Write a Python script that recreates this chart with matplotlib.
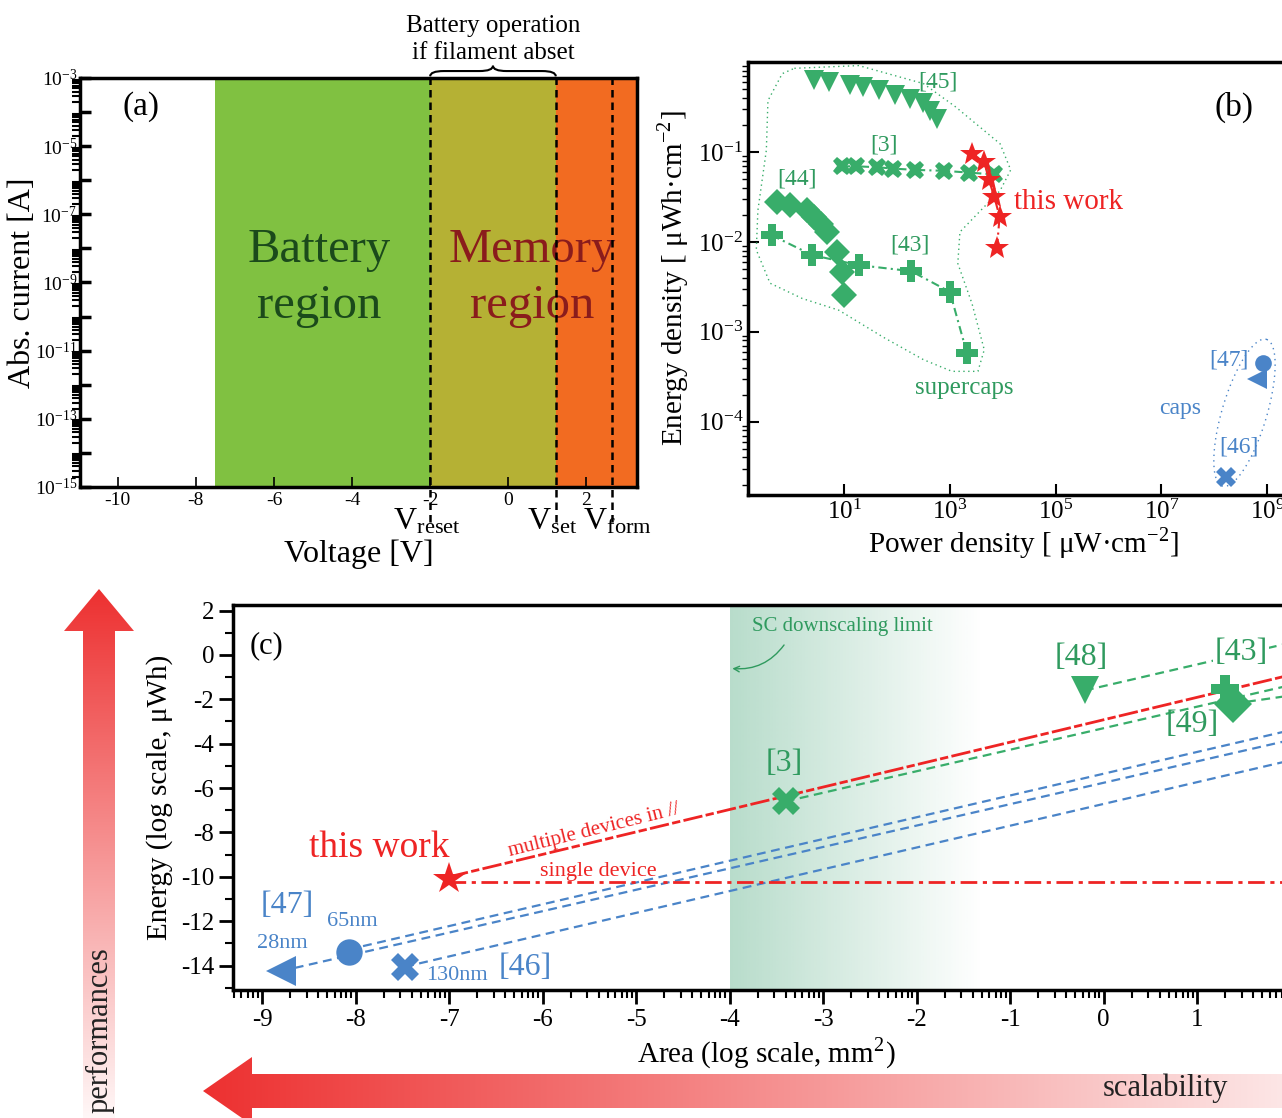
"""Three-panel figure: (a) operating regions, (b) Ragone plot, (c) energy vs area."""

import numpy as np
import matplotlib

matplotlib.use("Agg")
import matplotlib.pyplot as plt  # noqa: E402
import matplotlib.transforms as mtransforms  # noqa: E402
from matplotlib.patches import Polygon, PathPatch  # noqa: E402
from matplotlib.path import Path  # noqa: E402
from matplotlib.ticker import FixedLocator, FuncFormatter, NullFormatter  # noqa: E402

plt.rcParams.update(
    {
        "font.family": ["Liberation Serif", "DejaVu Serif"],
        "mathtext.fontset": "stix",
        "axes.unicode_minus": False,
        "axes.linewidth": 2.5,
    }
)

W, H = 1282, 1118

GREEN = "#38ad6a"
GREEN_TXT = "#2f9a5e"
BLUE = "#4a84c8"
RED = "#ee2424"

# ---------------- panel (a) ----------------
A_XLIM = (-10.97, 3.3)
A_YEXP = (-15, -3)
A_REGION_EDGES = [-7.5, -2.0, 1.22, 3.3]
A_REGION_COLORS = ["#80c141", "#b5b134", "#f26b21"]
A_VLINES = [-2.0, 1.22, 2.67]
A_VLABELS = [r"V$_{\mathregular{reset}}$", r"V$_{\mathregular{set}}$", r"V$_{\mathregular{form}}$"]
A_VLABEL_X = [-2.95, 0.49, 1.92]

# ---------------- panel (b): log10 values ----------------
B45_LOGP = [0.44, 0.71, 1.11, 1.36, 1.66, 1.97, 2.24, 2.49, 2.62, 2.75]
B45_LOGE = [-0.20, -0.22, -0.26, -0.28, -0.315, -0.37, -0.41, -0.46, -0.54, -0.63]
B3_LOGP = [0.96, 1.23, 1.63, 1.92, 2.35, 2.89, 3.36, 3.84]
B3_LOGE = [-1.16, -1.16, -1.17, -1.185, -1.20, -1.21, -1.23, -1.25]
B44_LOGP = [-0.26, -0.03, 0.29, 0.44, 0.56, 0.67, 0.86, 0.96, 1.0]
B44_LOGE = [-1.556, -1.593, -1.648, -1.722, -1.796, -1.889, -2.111, -2.333, -2.593]
B43_LOGP = [-0.37, 0.40, 1.28, 2.27, 3.0, 3.32]
B43_LOGE = [-1.926, -2.148, -2.259, -2.326, -2.556, -3.233]
BTW_LOGP = [3.42, 3.65, 3.74, 3.84, 3.94, 3.89]
BTW_LOGE = [-1.02, -1.11, -1.315, -1.50, -1.72, -2.07]
B47_LOGP = [8.92, 8.80]
B47_LOGE = [-3.35, -3.52]
B46_LOGP = [8.23]
B46_LOGE = [-4.61]

# outline drawn around the supercapacitor data (log10 units)
SC_OUTLINE_P = [0.06, 1.28, 2.50, 3.11, 3.95, 4.15, 3.95, 3.65, 3.19, 3.15, 3.42, 3.65,
                3.53, 3.04, 2.50, 1.74, 0.90, 0.21, -0.40, -0.66, -0.63, -0.47, -0.44, -0.17]
SC_OUTLINE_E = [-0.07, -0.04, -0.24, -0.50, -0.91, -1.20, -1.43, -1.61, -1.89, -2.24, -2.69,
                -3.20, -3.44, -3.44, -3.31, -3.06, -2.76, -2.63, -2.46, -2.09, -1.65, -0.98,
                -0.43, -0.13]

# ---------------- panel (c): log10 area (mm2), log10 energy (uWh) ----------------
C_THIS = (-7.0, -10.1)
C_REF3 = (-3.4, -6.6)
C_REF48 = (-0.2, -1.6)
C_REF43 = (1.30, -1.55)
C_REF49 = (1.38, -2.2)
C_REF47_65 = (-8.07, -13.37)
C_REF47_28 = (-8.8, -14.25)
C_REF46 = (-7.47, -14.05)
C_RIGHT = 1.95
C_MULTI_END = -0.95
C_SINGLE = -10.25
C_GREEN_ENDS = {"3": -1.41, "48": 0.5, "49": -1.86}
C_BLUE_ENDS = {"65": -3.44, "28": -3.88, "130": -4.80}

fig = plt.figure(figsize=(W / 100, H / 100), dpi=100)

# ---------- background layer: gradient arrows ----------
bg = fig.add_axes([0, 0, 1, 1], zorder=0)


def gradient_arrow(ax, verts, c0, c1, vertical):
    poly = Polygon(verts, closed=True, facecolor="none", edgecolor="none")
    ax.add_patch(poly)
    xs = [v[0] for v in verts]
    ys = [v[1] for v in verts]
    t = np.linspace(0, 1, 256)[:, None]
    img = (1 - t) * np.array(c0)[None, :] + t * np.array(c1)[None, :]
    img = img[:, None, :] if vertical else img[None, :, :]
    im = ax.imshow(img, extent=[min(xs), max(xs), max(ys), min(ys)],
                   aspect="auto", interpolation="bilinear")
    im.set_clip_path(poly)


gradient_arrow(bg, [(99, 589), (134, 631), (115, 631), (115, 1118), (83, 1118), (83, 631), (64, 631)],
               (0.93, 0.19, 0.19), (1.0, 0.97, 0.97), True)
gradient_arrow(bg, [(203, 1091), (252, 1057), (252, 1074), (1282, 1074), (1282, 1108),
                    (252, 1108), (252, 1125)],
               (0.93, 0.19, 0.19), (0.99, 0.9, 0.9), False)
bg.set_xlim(0, W)
bg.set_ylim(H, 0)
bg.axis("off")
bg.text(100, 1030, "performances", rotation=90, ha="center", va="center", fontsize=22, color="#222222")
bg.text(1165, 1088, "scalability", ha="center", va="center", fontsize=22, color="#222222")

# ---------- panel (a) ----------
ax_a = fig.add_axes([80 / W, 1 - 487 / H, 557 / W, 409 / H], zorder=2)
ax_a.set_yscale("log")
for x0, x1, c in zip(A_REGION_EDGES[:-1], A_REGION_EDGES[1:], A_REGION_COLORS):
    ax_a.axvspan(x0, x1, color=c, lw=0)
ax_a.set_xlim(*A_XLIM)
ax_a.set_ylim(10.0 ** A_YEXP[0], 10.0 ** A_YEXP[1])
decades = np.arange(A_YEXP[0], A_YEXP[1] + 1)
ax_a.yaxis.set_major_locator(FixedLocator(10.0 ** decades))
ax_a.yaxis.set_major_formatter(FuncFormatter(
    lambda v, p: f"$\\mathregular{{10^{{{int(round(np.log10(v)))}}}}}$" if int(round(np.log10(v))) % 2 else ""))
ax_a.yaxis.set_minor_locator(FixedLocator(
    [k * 10.0 ** d for d in decades[:-1] for k in range(2, 10)]))
ax_a.yaxis.set_minor_formatter(NullFormatter())
ax_a.set_xticks(np.arange(-10, 3, 2))
ax_a.tick_params(axis="both", direction="in", labelsize=14)
ax_a.tick_params(axis="y", which="both", labelsize=14, pad=2)
ax_a.tick_params(axis="y", which="major", length=8, width=2.5)
ax_a.tick_params(axis="y", which="minor", length=6, width=1.5)
ax_a.tick_params(axis="x", length=7, width=1.2)
ax_a.set_ylabel("Abs. current [A]", fontsize=23, va="center")
ax_a.yaxis.set_label_coords(-0.104, 0.5)
ax_a.set_xlabel("Voltage [V]", fontsize=23, labelpad=22)

blend_a = mtransforms.blended_transform_factory(ax_a.transData, ax_a.transAxes)
for v in A_VLINES:
    ax_a.plot([v, v], [-0.085, 1.0], transform=blend_a, color="k", lw=1.8,
              ls=(0, (3, 2)), clip_on=False, zorder=5)
for lab, x in zip(A_VLABELS, A_VLABEL_X):
    ax_a.text(x, -0.085, lab, transform=blend_a, fontsize=23, ha="left", va="center")
ax_a.text(-9.4, 0.93, "(a)", transform=blend_a, fontsize=24, ha="center", va="center")
ax_a.text(-4.85, 0.51, "Battery\nregion", transform=blend_a, fontsize=35, color="#1b4a1b",
          ha="center", va="center", linespacing=1.35)
ax_a.text(0.62, 0.51, "Memory\nregion", transform=blend_a, fontsize=35, color="#8a1c1c",
          ha="center", va="center", linespacing=1.35)

# curly brace over the memory window
xb0, xb1 = A_VLINES[0], A_VLINES[1]
xm, d = (xb0 + xb1) / 2, 0.35
y0, yh, yp = 1.004, 1.017, 1.03
brace = Path(
    [(xb0, y0), (xb0, yh), (xb0 + d, yh), (xm - d, yh), (xm, yh), (xm, yp),
     (xm, yh), (xm + d, yh), (xb1 - d, yh), (xb1, yh), (xb1, y0)],
    [Path.MOVETO, Path.CURVE3, Path.CURVE3, Path.LINETO, Path.CURVE3, Path.CURVE3,
     Path.CURVE3, Path.CURVE3, Path.LINETO, Path.CURVE3, Path.CURVE3])
ax_a.add_patch(PathPatch(brace, transform=blend_a, fill=False, lw=1.5, clip_on=False))
ax_a.text(xm, 1.094, "Battery operation\nif filament abset", transform=blend_a, fontsize=18,
          ha="center", va="center", linespacing=1.3)

# ---------- panel (b) ----------
ax_b = fig.add_axes([748 / W, 1 - 495 / H, (1300 - 748) / W, (495 - 62) / H], zorder=2)
ax_b.set_xscale("log")
ax_b.set_yscale("log")


def pw(a):
    return 10.0 ** np.asarray(a)


ax_b.plot(pw(SC_OUTLINE_P + SC_OUTLINE_P[:1]), pw(SC_OUTLINE_E + SC_OUTLINE_E[:1]),
          color=GREEN, lw=1.0, ls=(0, (1, 2.5)))
th = np.linspace(0, 2 * np.pi, 200)
ell_p = 8.57 + 0.42 * np.cos(th) + 0.40 * np.sin(th)
ell_e = -3.90 + 0.815 * np.cos(th) - 0.08 * np.sin(th)
ax_b.plot(pw(ell_p), pw(ell_e), color=BLUE, lw=1.0, ls=(0, (1, 3)))

ax_b.plot(pw(B45_LOGP), pw(B45_LOGE), "v", color=GREEN, ms=14, mew=0)
ax_b.plot(pw(B3_LOGP), pw(B3_LOGE), "X", color=GREEN, ms=13, mew=0, ls=(0, (4, 2, 1, 2)), lw=1.5)
ax_b.plot(pw(B44_LOGP), pw(B44_LOGE), "D", color=GREEN, ms=13, mew=0, ls="none")
ax_b.plot(pw(B43_LOGP), pw(B43_LOGE), "P", color=GREEN, ms=16, mew=0, ls=(0, (4, 2, 1, 2)), lw=1.5)
ax_b.plot(pw(BTW_LOGP), pw(BTW_LOGE), "*", color=RED, ms=18, mew=0, ls=(0, (4, 2, 1, 2)), lw=1.5)
ax_b.plot(pw(B47_LOGP[:1]), pw(B47_LOGE[:1]), "o", color=BLUE, ms=12, mew=0)
ax_b.plot(pw(B47_LOGP[1:]), pw(B47_LOGE[1:]), "<", color=BLUE, ms=15, mew=0)
ax_b.plot(pw(B46_LOGP), pw(B46_LOGE), "X", color=BLUE, ms=14, mew=0)

ax_b.set_xlim(10 ** -0.817, 10 ** 9.62)
ax_b.set_ylim(10 ** -4.815, 1.0)
ax_b.set_xticks([1e1, 1e3, 1e5, 1e7, 1e9])
ax_b.xaxis.set_minor_locator(FixedLocator([]))
ax_b.set_yticks([1e-4, 1e-3, 1e-2, 1e-1])
ax_b.yaxis.set_minor_locator(FixedLocator(
    [k * 10.0 ** d for d in range(-5, 0) for k in range(2, 10)]))
ax_b.yaxis.set_minor_formatter(NullFormatter())
ax_b.tick_params(axis="both", direction="in", labelsize=18)
ax_b.tick_params(axis="both", which="major", length=8, width=1.5)
ax_b.tick_params(axis="y", which="minor", length=4, width=1.0)
ax_b.set_xlabel(r"Power density [ μW·cm$^{\mathregular{-2}}$]", fontsize=21, labelpad=2)
ax_b.set_ylabel(r"Energy density [ μWh·cm$^{\mathregular{-2}}$]", fontsize=21, labelpad=4)

for txt, lp, le, c, fs in [
    ("[45]", 2.77, -0.22, GREEN_TXT, 17), ("[3]", 1.76, -0.92, GREEN_TXT, 17),
    ("[44]", 0.11, -1.30, GREEN_TXT, 17), ("[43]", 2.24, -2.04, GREEN_TXT, 17),
    ("this work", 5.25, -1.56, RED, 21), ("supercaps", 3.27, -3.63, GREEN_TXT, 18),
    ("[47]", 8.27, -3.31, BLUE, 17), ("caps", 7.35, -3.85, BLUE, 17),
    ("[46]", 8.46, -4.28, BLUE, 17), ("(b)", 8.38, -0.5, "k", 24),
]:
    ax_b.text(10 ** lp, 10 ** le, txt, color=c, fontsize=fs, ha="center", va="center")

# ---------- panel (c) ----------
ax_c = fig.add_axes([233 / W, 1 - 990 / H, (1300 - 233) / W, (990 - 605) / H], zorder=2)
C_XLIM = (-9.31, 2.10)
C_YLIM = (-15.1, 2.25)

# shaded supercap downscaling region fading to white
fade = np.linspace(0.34, 0.0, 256)
shade = np.zeros((1, 256, 4))
shade[..., 0], shade[..., 1], shade[..., 2] = 0.18, 0.60, 0.40
shade[..., 3] = fade
ax_c.imshow(shade, extent=[-4.0, -1.3, C_YLIM[0], C_YLIM[1]], aspect="auto", zorder=0,
            interpolation="bilinear")

dash = (0, (4, 2.5))
ax_c.plot([C_REF47_65[0], C_RIGHT], [C_REF47_65[1] + 0.1, C_BLUE_ENDS["65"]], color=BLUE, lw=1.6, ls=dash)
ax_c.plot([C_REF47_28[0], C_RIGHT], [C_REF47_28[1], C_BLUE_ENDS["28"]], color=BLUE, lw=1.6, ls=dash)
ax_c.plot([C_REF46[0], C_RIGHT], [C_REF46[1], C_BLUE_ENDS["130"]], color=BLUE, lw=1.6, ls=dash)
ax_c.plot([C_REF3[0], C_RIGHT], [C_REF3[1], C_GREEN_ENDS["3"]], color=GREEN, lw=1.6, ls=dash)
ax_c.plot([C_REF48[0], C_RIGHT], [C_REF48[1], C_GREEN_ENDS["48"]], color=GREEN, lw=1.6, ls=dash)
ax_c.plot([C_REF49[0], C_RIGHT], [C_REF49[1], C_GREEN_ENDS["49"]], color=GREEN, lw=1.6, ls=dash)
ax_c.plot([C_THIS[0], C_RIGHT], [C_THIS[1] + 0.1, C_MULTI_END], color=RED, lw=2.0,
          ls=(0, (7, 1.2, 3, 1.2)))
ax_c.plot([C_THIS[0], C_RIGHT], [C_SINGLE, C_SINGLE], color=RED, lw=2.0, ls=(0, (6, 2, 1.5, 2)))

ax_c.plot(*C_THIS, "*", color=RED, ms=24, mew=0, zorder=5)
ax_c.plot(*C_REF3, "X", color=GREEN, ms=20, mew=0, zorder=5)
ax_c.plot(*C_REF48, "v", color=GREEN, ms=20, mew=0, zorder=5)
ax_c.plot(*C_REF43, "P", color=GREEN, ms=20, mew=0, zorder=5)
ax_c.plot(*C_REF49, "D", color=GREEN, ms=19, mew=0, zorder=5)
ax_c.plot(*C_REF47_65, "o", color=BLUE, ms=19, mew=0, zorder=5)
ax_c.plot(*C_REF47_28, "<", color=BLUE, ms=21, mew=0, zorder=5)
ax_c.plot(*C_REF46, "X", color=BLUE, ms=20, mew=0, zorder=5)

ax_c.set_xlim(*C_XLIM)
ax_c.set_ylim(*C_YLIM)
ax_c.set_xticks(np.arange(-9, 2))
ax_c.xaxis.set_minor_locator(FixedLocator(
    [n + np.log10(k) for n in range(-10, 2) for k in range(2, 10)]))
ax_c.set_yticks(np.arange(-14, 3, 2))
ax_c.yaxis.set_minor_locator(FixedLocator(np.arange(-15, 3, 2)))
ax_c.tick_params(axis="both", direction="out", labelsize=18)
ax_c.tick_params(axis="both", which="major", length=10, width=2.0)
ax_c.tick_params(axis="both", which="minor", length=6, width=1.5)
ax_c.set_xlabel(r"Area (log scale, mm$^{\mathregular{2}}$)", fontsize=21, labelpad=4)
ax_c.set_ylabel("Energy (log scale, μWh)", fontsize=21, labelpad=6)

ax_c.text(-9.13, 0.4, "(c)", fontsize=22, ha="left", va="center")
ax_c.text(-7.75, -8.7, "this work", fontsize=27, color=RED, ha="center", va="center")
ax_c.text(-5.45, -7.9, "multiple devices in //", fontsize=15, color=RED, ha="center",
          va="center", rotation=14)
ax_c.text(-5.4, -9.75, "single device", fontsize=16, color=RED, ha="center", va="center")
ax_c.text(-8.73, -11.3, "[47]", fontsize=23, color=BLUE, ha="center", va="center")
ax_c.text(-8.03, -12.0, "65nm", fontsize=16, color=BLUE, ha="center", va="center")
ax_c.text(-8.78, -13.0, "28nm", fontsize=16, color=BLUE, ha="center", va="center")
ax_c.text(-6.92, -14.45, "130nm", fontsize=16, color=BLUE, ha="center", va="center")
ax_c.text(-6.18, -14.1, "[46]", fontsize=23, color=BLUE, ha="center", va="center")
ax_c.text(-3.42, -4.9, "[3]", fontsize=23, color=GREEN_TXT, ha="center", va="center")
ax_c.text(-0.24, -0.1, "[48]", fontsize=23, color=GREEN_TXT, ha="center", va="center")
ax_c.text(1.47, 0.1, "[43]", fontsize=23, color=GREEN_TXT, ha="center", va="center",
          bbox=dict(facecolor="white", edgecolor="none", pad=1.0))
ax_c.text(0.95, -3.15, "[49]", fontsize=23, color=GREEN_TXT, ha="center", va="center")
ax_c.text(-2.79, 1.26, "SC downscaling limit", fontsize=15, color=GREEN_TXT, ha="center", va="center")
ax_c.annotate("", xy=(-4.0, -0.6), xytext=(-3.4, 0.55),
              arrowprops=dict(arrowstyle="->", color=GREEN_TXT, lw=1.0,
                              connectionstyle="arc3,rad=-0.3"))

fig.savefig("out.png", dpi=100)
